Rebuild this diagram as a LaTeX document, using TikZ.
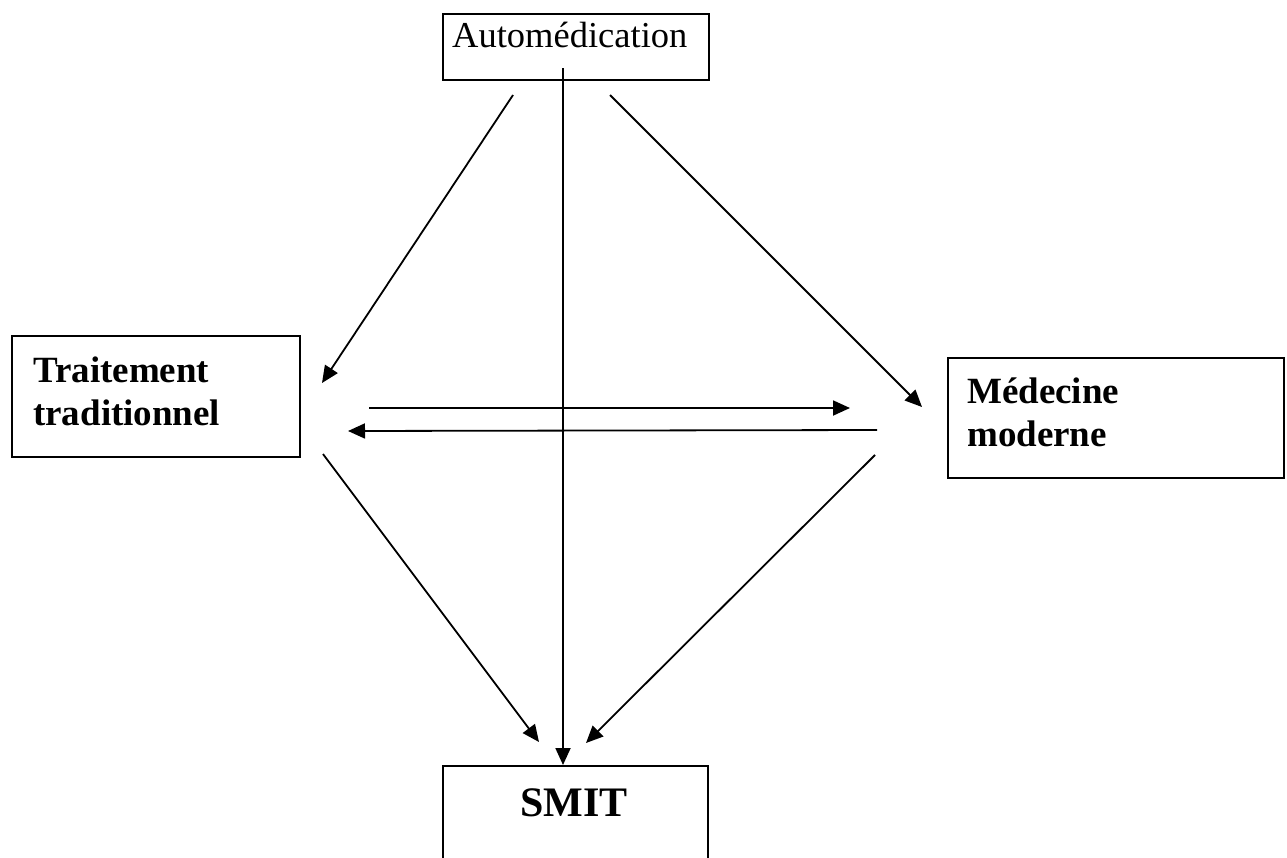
\documentclass[tikz,border=0pt]{standalone}
\usepackage{fontspec}
\setmainfont{Liberation Serif}
\usetikzlibrary{arrows.meta}
\tikzset{
  box/.style={draw=black, line width=2pt, rectangle, inner sep=0pt, anchor=north west},
  lbl/.style={inner sep=0pt, anchor=base west, align=left},
  conn/.style={line width=1.8pt, -{Triangle[length=17pt,width=15pt]}},
}
\begin{document}
\begin{tikzpicture}[x=1pt,y=-1pt]
\useasboundingbox (0,0) rectangle (1287,857);
\clip (0,0) rectangle (1287,857);
% boxes
\node[box, minimum width=266pt, minimum height=66pt] (autobox) at (442,13) {};
\node[box, minimum width=288pt, minimum height=121pt] (tradbox) at (11,335) {};
\node[box, minimum width=336pt, minimum height=120pt] (medbox) at (947,357) {};
\node[box, minimum width=265pt, minimum height=140pt] (smitbox) at (442,765) {};
% texts (base anchor of a multi-line node is the last baseline)
\node[lbl, font=\fontsize{36.5}{43}\selectfont] (autotxt) at (452,47) {Automédication};
\node[lbl, font=\fontsize{37}{43}\selectfont\bfseries] (tradtxt) at (33,425) {Traitement\\traditionnel};
\node[lbl, font=\fontsize{37}{43}\selectfont\bfseries] (medtxt) at (967,446) {Médecine\\moderne};
\node[lbl, font=\fontsize{42}{48}\selectfont\bfseries] (smittxt) at (520,816) {SMIT};
% connector ends
\coordinate (a1s) at (513,95);  \coordinate (a1e) at (322,383);
\coordinate (vs)  at (563,68);  \coordinate (ve)  at (563,765);
\coordinate (a3s) at (610,95);  \coordinate (a3e) at (922,407);
\coordinate (h1s) at (369,408); \coordinate (h1e) at (850,408);
\coordinate (h2s) at (877,430); \coordinate (h2e) at (348,431);
\coordinate (d1s) at (323,454); \coordinate (d1e) at (539,742);
\coordinate (d2s) at (875,455); \coordinate (d2e) at (586,743);
% connectors
\draw[conn] (a1s) -- (a1e);
\draw[conn] (vs) -- (ve);
\draw[conn] (a3s) -- (a3e);
\draw[conn] (h1s) -- (h1e);
\draw[conn] (h2s) -- (h2e);
\draw[conn] (d1s) -- (d1e);
\draw[conn] (d2s) -- (d2e);
\end{tikzpicture}
\end{document}
